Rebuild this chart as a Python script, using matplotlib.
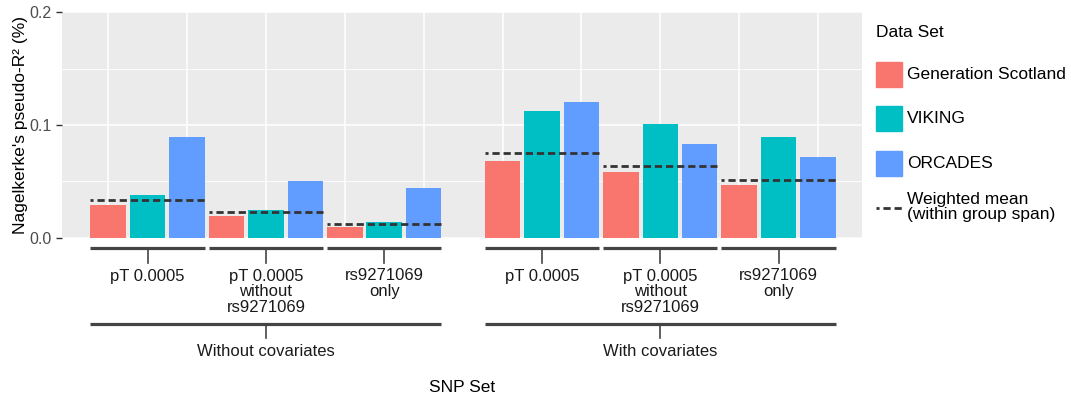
import matplotlib.pyplot as plt
from matplotlib.patches import Rectangle
from matplotlib.lines import Line2D
from matplotlib.transforms import blended_transform_factory

plt.rcParams['font.family'] = ['Liberation Sans', 'DejaVu Sans']

# values per SNP set (three subsets, without / with covariates)
snp_sets = ['pT 0.0005', 'pT 0.0005\nwithout\nrs9271069', 'rs9271069\nonly',
            'pT 0.0005', 'pT 0.0005\nwithout\nrs9271069', 'rs9271069\nonly']
covariates = ['Without covariates', 'With covariates']
gen_scotland = [0.0287, 0.0194, 0.0097, 0.0680, 0.0584, 0.0469]
viking = [0.0381, 0.0249, 0.0143, 0.1127, 0.1009, 0.0898]
orcades = [0.0894, 0.0502, 0.0445, 0.1209, 0.0830, 0.0718]
weighted_mean = [0.0331, 0.0229, 0.0126, 0.0754, 0.0634, 0.0516]

datasets = ['Generation Scotland', 'VIKING', 'ORCADES']
colors = ['#F8766D', '#00BFC4', '#619CFF']
series = [gen_scotland, viking, orcades]

fig = plt.figure(figsize=(10.71, 4.01), dpi=100)
ax = fig.add_axes([0.0576, 0.407, 0.7474, 0.562])
ax.set_facecolor('#EBEBEB')

# slot positions: 3 bars per group, one empty slot between the covariate blocks
starts = [0, 3, 6, 10, 13, 16]
w = 0.9
for g, s in enumerate(starts):
    for k in range(3):
        ax.bar(s + k, series[k][g], width=w, color=colors[k], zorder=2)
    ax.plot([s - w / 2, s + 2 + w / 2], [weighted_mean[g]] * 2, color='#333333',
            lw=2, linestyle=(1.5, (2.6, 1.4)), zorder=3, solid_capstyle='butt',
            dash_capstyle='butt')

ax.set_xlim(-1.18, 19.12)
ax.set_ylim(0, 0.2)
ax.set_yticks([0, 0.1, 0.2])
ax.set_yticklabels(['0.0', '0.1', '0.2'])
ax.set_yticks([0.05, 0.15], minor=True)
ax.set_xticks(range(0, 19, 2))
ax.tick_params(axis='x', length=0, labelbottom=False)
ax.tick_params(axis='y', which='major', length=4, color='#333333', labelcolor='#4D4D4D',
               labelsize=11.5, width=1)
ax.tick_params(axis='y', which='minor', length=0)
ax.grid(True, which='major', color='white', lw=1.1, zorder=0)
ax.grid(True, which='minor', axis='y', color='white', lw=0.6, zorder=0)
ax.set_axisbelow(True)
for sp in ax.spines.values():
    sp.set_visible(False)
ax.set_ylabel("Nagelkerke's pseudo-R² (%)", fontsize=12.5, labelpad=1)

# bracket annotations under the axis
tr = blended_transform_factory(ax.transData, fig.transFigure)
def fy(p):
    return 1 - p / 401

narrow = ['Liberation Sans Narrow', 'Liberation Sans', 'DejaVu Sans']
for g, s in enumerate(starts):
    x0, x1 = s - w / 2, s + 2 + w / 2
    xc = s + 1
    ax.add_line(Line2D([x0, x1], [fy(248.3)] * 2, transform=tr, color='#444444',
                       lw=2.3, clip_on=False, solid_capstyle='butt'))
    ax.add_line(Line2D([xc, xc], [fy(248.3), fy(263)], transform=tr, color='#444444',
                       lw=1.2, clip_on=False))
    ax.text(xc, fy(268.5), snp_sets[g], transform=tr, ha='center', va='top',
            fontsize=12, family=narrow, linespacing=1.05, color='#1a1a1a')

for b, c in enumerate(covariates):
    x0 = starts[3 * b] - w / 2
    x1 = starts[3 * b + 2] + 2 + w / 2
    xc = (x0 + x1) / 2
    ax.add_line(Line2D([x0, x1], [fy(324.3)] * 2, transform=tr, color='#444444',
                       lw=2.3, clip_on=False, solid_capstyle='butt'))
    ax.add_line(Line2D([xc, xc], [fy(324.3), fy(338)], transform=tr, color='#444444',
                       lw=1.2, clip_on=False))
    ax.text(xc, fy(352), c, transform=tr, ha='center', va='center',
            fontsize=12, family=narrow, color='#1a1a1a')

fig.text(462 / 1071, fy(388), 'SNP Set', ha='center', va='center', fontsize=12.5)

# legend
def fx(p):
    return p / 1071

fig.text(fx(876), fy(32.5), 'Data Set', ha='left', va='center', fontsize=12.5)
legend_y = [74.5, 118.5, 163.5]
for k, name in enumerate(datasets):
    yc = legend_y[k]
    fig.add_artist(Rectangle((fx(876), fy(yc + 12.8)), fx(26), 25.6 / 401,
                             transform=fig.transFigure, color=colors[k]))
    fig.text(fx(907), fy(yc), name, ha='left', va='center', fontsize=12.5)
fig.add_artist(Line2D([fx(876), fx(902)], [fy(208.3)] * 2, transform=fig.transFigure,
                      color='#333333', lw=2, linestyle=(1.5, (2.6, 1.4))))
fig.text(fx(907), fy(207), 'Weighted mean\n(within group span)', ha='left',
         va='center', fontsize=12.5, linespacing=1.08)

fig.savefig('out.png', dpi=100)
